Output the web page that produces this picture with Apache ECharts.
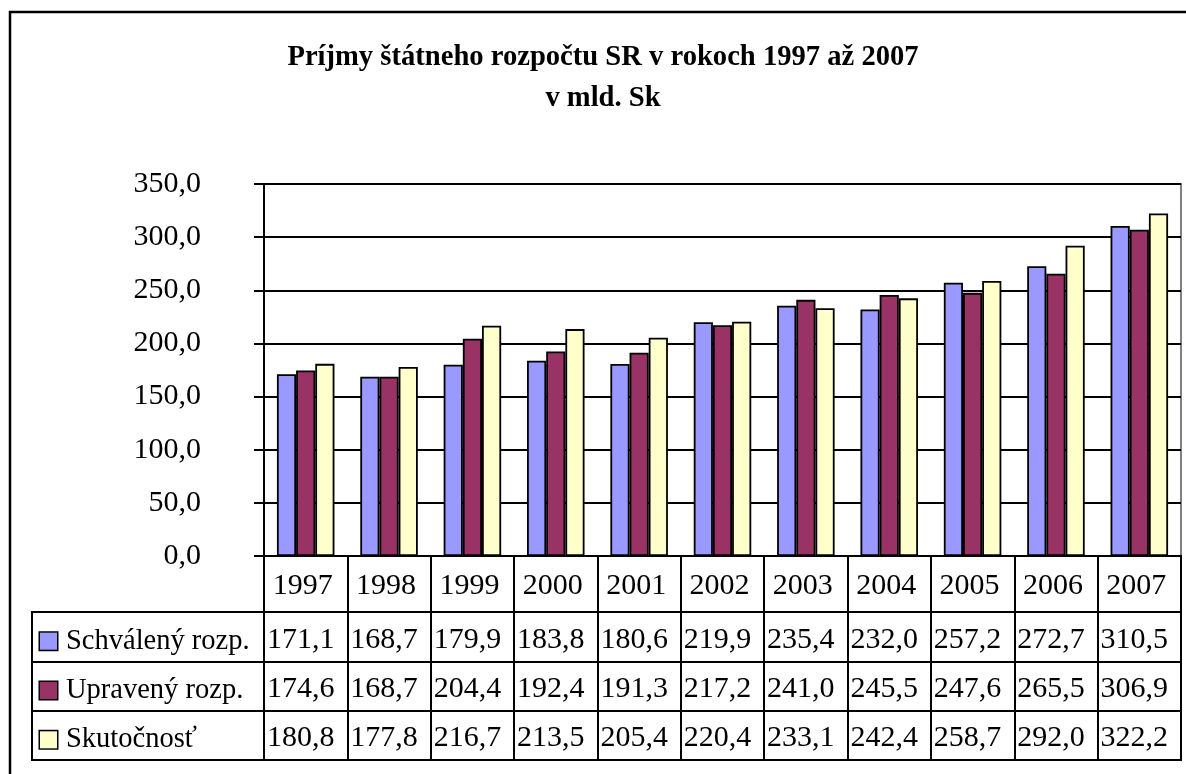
<!DOCTYPE html>
<html><head><meta charset="utf-8">
<script src="https://cdn.jsdelivr.net/npm/echarts@6/dist/echarts.min.js"></script>
<style>html,body{margin:0;padding:0;background:#fff}#c{width:1186px;height:774px}</style>
</head><body><div id="c"></div>
<script>
const years = ['1997','1998','1999','2000','2001','2002','2003','2004','2005','2006','2007'];
const seriesNames = ['Schválený rozp.','Upravený rozp.','Skutočnosť'];
const schvaleny = [171.1,168.7,179.9,183.8,180.6,219.9,235.4,232.0,257.2,272.7,310.5];
const upraveny = [174.6,168.7,204.4,192.4,191.3,217.2,241.0,245.5,247.6,265.5,306.9];
const skutocnost = [180.8,177.8,216.7,213.5,205.4,220.4,233.1,242.4,258.7,292.0,322.2];
const colors = ['#9999FF','#993366','#FFFFCC'];
const yMin = 0, yMax = 350, yStep = 50;

const FONT = "'Liberation Serif','Times New Roman',serif";
const NUM_SIZE = 30;
const fmt = v => Number(v).toFixed(1).replace('.', ',');
const allSeries = [schvaleny, upraveny, skutocnost];

const tableData = [];
allSeries.forEach((arr, r) => arr.forEach((v, i) => tableData.push([i, r, v])));

const LW = 2;
const chart = echarts.init(document.getElementById('c'), null, {renderer: 'canvas'});
const sq = c => ({width: 17, height: 17, backgroundColor: c, borderColor: '#000', borderWidth: 1.5});
const option = {
  animation: false,
  backgroundColor: '#fff',
  textStyle: {fontFamily: FONT},
  title: {
    text: 'Príjmy štátneho rozpočtu SR v rokoch 1997 až 2007\nv mld. Sk',
    left: 598, top: 32, textAlign: 'center',
    textStyle: {fontFamily: FONT, fontWeight: 'bold', fontSize: 28.6, lineHeight: 41, color: '#000'}
  },
  graphic: [{type: 'rect', silent: true, shape: {x: 10, y: 12, width: 1300, height: 900},
    style: {fill: 'none', stroke: '#000', lineWidth: 2.5}}],
  grid: [
    {left: 264, top: 184, width: 917, height: 372, show: true, borderColor: '#808080', borderWidth: 2},
    {left: 264, top: 556, width: 917, height: 56, show: true, borderColor: '#000', borderWidth: LW},
    {left: 264, top: 612, width: 917, height: 148, show: true, borderColor: '#000', borderWidth: LW},
    {left: 32, top: 612, width: 232, height: 148, show: true, borderColor: '#000', borderWidth: LW}
  ],
  xAxis: [
    {type: 'category', gridIndex: 0, data: years, axisLine: {lineStyle: {color: '#000', width: LW}},
      axisTick: {show: false}, axisLabel: {show: false}},
    {type: 'category', gridIndex: 1, data: years, axisLine: {show: false}, axisTick: {show: false},
      axisLabel: {show: false}, splitLine: {show: true, lineStyle: {color: '#000', width: LW}}},
    {type: 'category', gridIndex: 2, data: years, axisLine: {show: false}, axisTick: {show: false},
      axisLabel: {show: false}, splitLine: {show: true, lineStyle: {color: '#000', width: LW}}},
    {type: 'value', gridIndex: 3, show: false}
  ],
  yAxis: [
    {type: 'value', gridIndex: 0, min: yMin, max: yMax, interval: yStep,
      axisLine: {show: true, lineStyle: {color: '#000', width: LW}},
      axisTick: {show: true, length: 10, lineStyle: {color: '#000', width: LW}},
      splitLine: {show: true, lineStyle: {color: '#000', width: LW}},
      axisLabel: {margin: 63, fontSize: NUM_SIZE, fontFamily: FONT, color: '#000', formatter: v => fmt(v)}},
    {type: 'category', gridIndex: 1, data: [''], show: false},
    {type: 'category', gridIndex: 2, data: seriesNames, inverse: true, axisLine: {show: false},
      axisTick: {show: false}, axisLabel: {show: false},
      splitLine: {show: true, lineStyle: {color: '#000', width: LW}}},
    {type: 'category', gridIndex: 3, data: seriesNames, inverse: true, axisLine: {show: false},
      axisTick: {show: false},
      splitLine: {show: true, lineStyle: {color: '#000', width: LW}},
      axisLabel: {inside: true, margin: 8, align: 'left', padding: [9, 0, 0, 0],
        formatter: (v, i) => '{s' + i + '|}{t|' + v + '}',
        rich: {
          s0: sq(colors[0]), s1: sq(colors[1]), s2: sq(colors[2]),
          t: {fontSize: 28.5, fontFamily: FONT, color: '#000', padding: [0, 0, 0, 9]}
        }}}
  ],
  series: [
    ...allSeries.map((arr, k) => ({
      name: seriesNames[k], type: 'bar', xAxisIndex: 0, yAxisIndex: 0, data: arr,
      barGap: '0%', barCategoryGap: '31%',
      itemStyle: {color: colors[k], borderColor: '#000', borderWidth: 1.8}
    })),
    {type: 'custom', xAxisIndex: 1, yAxisIndex: 1, data: years.map((y, i) => [i, 0]),
      renderItem: (params, api) => {
        const p = api.coord([api.value(0), api.value(1)]);
        return {type: 'text', x: p[0] - 3, y: p[1] + 2, style: {text: years[params.dataIndex], fontSize: NUM_SIZE,
          fontFamily: FONT, fill: '#000', align: 'center', verticalAlign: 'middle'}};
      }},
    {type: 'custom', xAxisIndex: 2, yAxisIndex: 2, data: tableData,
      renderItem: (params, api) => {
        const p = api.coord([api.value(0), api.value(1)]);
        return {type: 'text', x: p[0] - 5, y: p[1] + 3, style: {text: fmt(api.value(2)), fontSize: NUM_SIZE,
          fontFamily: FONT, fill: '#000', align: 'center', verticalAlign: 'middle'}};
      }}
  ]
};
chart.setOption(option);
</script>
</body></html>
